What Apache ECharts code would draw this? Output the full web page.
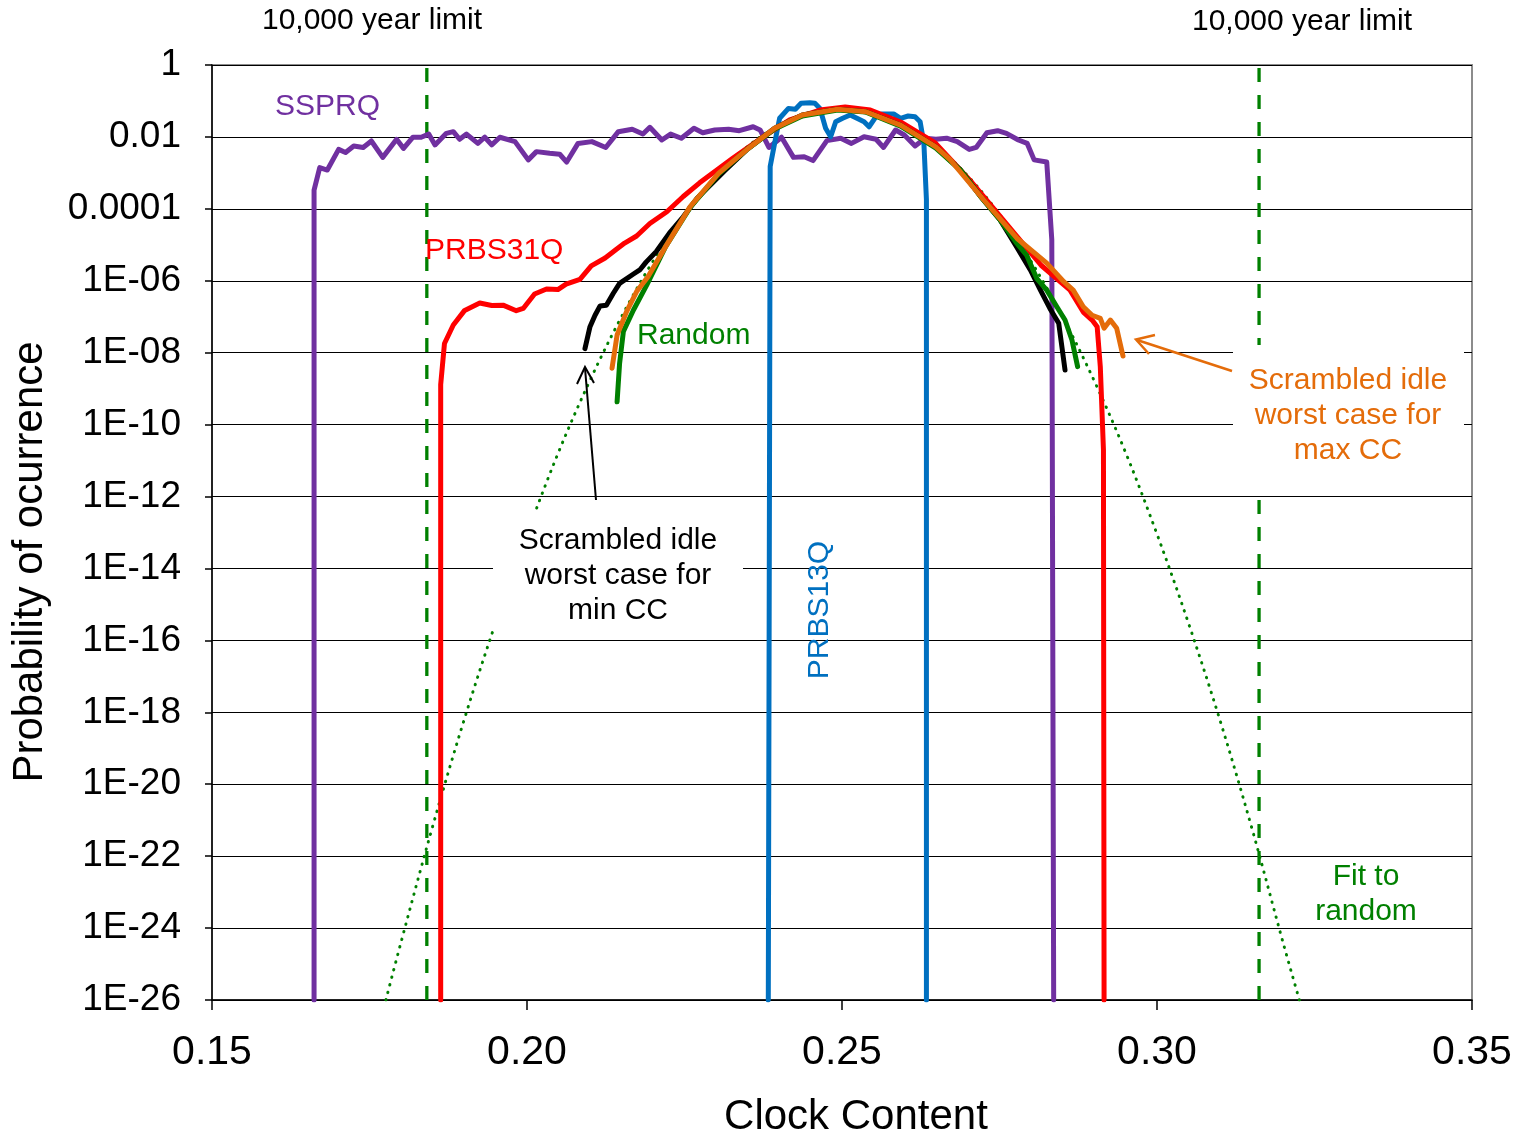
<!DOCTYPE html>
<html>
<head>
<meta charset="utf-8">
<title>Clock content distribution</title>
<script src="https://cdn.jsdelivr.net/npm/echarts@6/dist/echarts.min.js"></script>
<style>
    html, body { margin: 0; padding: 0; background: #fff; }
    #main { width: 1525px; height: 1135px; }
</style>
</head>
<body>
<div id="main"></div>
<script type="text/javascript">
// axis ranges
var xMin = 0.15, xMax = 0.35, xStep = 0.05;
var yMin = 1e-26, yMax = 1, yStepDecades = 2;   // a label every two decades
var limitX = [0.1841, 0.3162];   // 10,000 year limit

// [clock content, probability]
var ssprq = [[0.1662,1e-26],[0.1662,3.3e-4],[0.1671,1.4e-3],[0.1683,1.2e-3],[0.1701,4.5e-3],[0.1712,3.7e-3],
    [0.1725,5.6e-3],[0.1740,5.1e-3],[0.1753,7.7e-3],[0.1771,2.7e-3],[0.1793,8.6e-3],[0.1804,4.8e-3],
    [0.1819,9.8e-3],[0.1832,9.8e-3],[0.1844,1.2e-2],[0.1854,6e-3],[0.1872,1.26e-2],[0.1883,1.4e-2],
    [0.1893,8.6e-3],[0.1904,1.2e-2],[0.1922,6.6e-3],[0.1933,9.8e-3],[0.1944,6e-3],[0.1957,9.8e-3],
    [0.1981,7.4e-3],[0.2002,2.3e-3],[0.2015,3.9e-3],[0.2036,3.5e-3],[0.2052,3.3e-3],[0.2063,2.0e-3],
    [0.2081,6.6e-3],[0.2103,7.4e-3],[0.2125,5.1e-3],[0.2145,1.4e-2],[0.2167,1.63e-2],[0.2184,1.2e-2],
    [0.2195,1.85e-2],[0.2214,8.2e-3],[0.2228,1.2e-2],[0.2245,9.2e-3],[0.2265,1.74e-2],[0.2279,1.31e-2],
    [0.2298,1.56e-2],[0.2320,1.63e-2],[0.2337,1.49e-2],[0.2359,1.92e-2],[0.2370,1.56e-2],[0.2384,5.1e-3],
    [0.2404,9.8e-3],[0.2423,2.7e-3],[0.2440,2.8e-3],[0.2454,2.2e-3],[0.2476,7.9e-3],[0.2498,9.2e-3],
    [0.2515,6.6e-3],[0.2535,1.01e-2],[0.2554,8.6e-3],[0.2566,5.1e-3],[0.2585,1.56e-2],[0.2599,1.13e-2],
    [0.2616,5.6e-3],[0.2632,9.2e-3],[0.2649,8.6e-3],[0.2666,9.2e-3],[0.2683,7.4e-3],[0.2702,4.5e-3],
    [0.2713,5.1e-3],[0.2730,1.31e-2],[0.2747,1.49e-2],[0.2761,1.26e-2],[0.2780,8.2e-3],[0.2794,6.6e-3],
    [0.2805,2.3e-3],[0.2825,2.0e-3],[0.2833,1.4e-5],[0.2836,1e-26]];

var prbs13q = [[0.2383,1e-26],[0.2386,1.5e-3],[0.2393,6.6e-3],[0.2401,3.3e-2],[0.2415,6.2e-2],[0.2426,5.9e-2],
    [0.2435,8.6e-2],[0.2449,8.9e-2],[0.2457,8.6e-2],[0.2465,6.2e-2],[0.2474,1.74e-2],[0.2482,1.01e-2],
    [0.2490,2.65e-2],[0.2501,3.3e-2],[0.2513,4.07e-2],[0.2527,3.09e-2],[0.2535,2.65e-2],[0.2543,1.92e-2],
    [0.2554,3.65e-2],[0.2563,4.34e-2],[0.2582,4.34e-2],[0.2593,3.3e-2],[0.2605,3.82e-2],[0.2616,3.65e-2],
    [0.2624,2.65e-2],[0.2630,6.6e-3],[0.2634,1.8e-4],[0.2634,1e-26]];

var prbs31q = [[0.1863,1e-26],[0.1863,1.3e-9],[0.1869,1.8e-8],[0.1883,5.9e-8],[0.1901,1.5e-7],[0.1925,2.4e-7],
    [0.1944,2.05e-7],[0.1962,2.1e-7],[0.1983,1.47e-7],[0.1994,1.7e-7],[0.2012,4.3e-7],[0.2031,5.9e-7],
    [0.2049,5.7e-7],[0.2062,8.1e-7],[0.2084,1.1e-6],[0.2102,2.6e-6],[0.2124,4.3e-6],[0.2142,7.5e-6],
    [0.2155,1.12e-5],[0.2174,1.76e-5],[0.2195,3.9e-5],[0.2222,8.3e-5],[0.2248,2.2e-4],[0.2274,5.3e-4],
    [0.2326,2.5e-3],[0.2370,8.8e-3],[0.2417,2.96e-2],[0.2465,5.6e-2],[0.2505,6.8e-2],[0.2545,5.6e-2],
    [0.2593,2.6e-2],[0.2648,6.8e-3],[0.2703,6.3e-4],[0.2761,3.8e-5],[0.2816,2.7e-6],[0.2862,5.5e-7],
    [0.2883,1.35e-7],[0.2897,8.1e-8],[0.2905,5.3e-8],[0.2910,4.1e-9],[0.2915,2e-11],[0.2916,1e-26]];

var idleMin = [[0.2092,1.3e-8],[0.2100,5.3e-8],[0.2108,1.1e-7],[0.2116,2e-7],[0.2126,2.1e-7],[0.2137,4.5e-7],
    [0.2147,8.5e-7],[0.2169,1.54e-6],[0.2179,2e-6],[0.2189,3.3e-6],[0.2205,6.4e-6],[0.2226,2.1e-5],
    [0.2248,6e-5],[0.2270,1.96e-4],[0.2315,1.2e-3],[0.2348,4.3e-3],[0.2393,1.74e-2],[0.2437,4.07e-2],
    [0.2493,5.9e-2],[0.2538,5e-2],[0.2593,2.14e-2],[0.2649,5.3e-3],[0.2688,1.2e-3],[0.2721,2.1e-4],
    [0.2751,4.9e-5],[0.2777,8.9e-6],[0.2799,2e-6],[0.2815,5.5e-7],[0.2830,1.7e-7],[0.2844,6.6e-8],
    [0.2854,3.3e-9]];

var random = [[0.2143,4.3e-10],[0.2147,5.1e-9],[0.2153,3.9e-8],[0.2169,1.54e-7],[0.2190,7.6e-7],[0.2220,8.9e-6],
    [0.2259,1.1e-4],[0.2304,9.2e-4],[0.2348,4.3e-3],[0.2393,1.65e-2],[0.2437,3.8e-2],[0.2493,5.6e-2],
    [0.2538,4.9e-2],[0.2593,2e-2],[0.2649,4.9e-3],[0.2688,1.2e-3],[0.2724,1.8e-4],[0.2751,4.9e-5],
    [0.2778,1.07e-5],[0.2793,5.2e-6],[0.2809,1.17e-6],[0.2825,5.5e-7],[0.2841,1.9e-7],[0.2854,8.1e-8],
    [0.2865,2.25e-8],[0.2874,4.1e-9]];

var idleMax = [[0.2135,3.7e-9],[0.2143,3.1e-8],[0.2158,1.38e-7],[0.2174,5e-7],[0.2192,1.3e-6],[0.2220,8.9e-6],
    [0.2259,1.15e-4],[0.2304,9.7e-4],[0.2348,4.3e-3],[0.2393,1.74e-2],[0.2437,4.07e-2],[0.2493,5.9e-2],
    [0.2538,5e-2],[0.2593,2.14e-2],[0.2649,5.3e-3],[0.2672,2.3e-3],[0.2725,1.76e-4],[0.2778,1.5e-5],
    [0.2825,3.1e-6],[0.2852,9.4e-7],[0.2867,5.5e-7],[0.2883,1.9e-7],[0.2897,1.1e-7],[0.2910,9e-8],
    [0.2916,4.8e-8],[0.2926,8.1e-8],[0.2936,4.8e-8],[0.2946,8.1e-9]];

var fitRandom = [[0.1776,1e-26],[0.180,4e-25],[0.185,6.5e-22],[0.190,6e-19],[0.195,3e-16],[0.200,9e-14],
    [0.205,1.7e-11],[0.210,1.7e-9],[0.215,1e-7],[0.220,3.5e-6],[0.225,7e-5],[0.230,8.1e-4],[0.235,5.4e-3],
    [0.240,2.1e-2],[0.245,4.8e-2],[0.250,6.3e-2],[0.255,4.8e-2],[0.260,2.1e-2],[0.265,5.4e-3],[0.270,8.1e-4],
    [0.275,7e-5],[0.280,3.5e-6],[0.285,1e-7],[0.290,1.7e-9],[0.295,1.7e-11],[0.300,9e-14],[0.305,3e-16],
    [0.310,6e-19],[0.315,6.5e-22],[0.320,4e-25],[0.3226,1e-26]];

var FONT = '"Liberation Sans", Arial, sans-serif';
var GREEN = '#008000', PURPLE = '#7030A0', BLUE = '#0070C0', RED = '#FF0000', ORANGE = '#E46C0A';

// the y axis runs in decades (log10 of the probability); the built-in log axis drops its 1E-26 tick
function decade(p) { return Math.log(p) / Math.LN10; }
function toDecades(points) { return points.map(function (p) { return [p[0], decade(p[1])]; }); }

function yLabel(v) {
    var e = Math.round(v);
    if (e >= -4) return e >= 0 ? '1' : '0.' + '0'.repeat(-e - 1) + '1';
    var n = -e;
    return '1E-' + (n < 10 ? '0' : '') + n;
}

function curve(name, data, color, z) {
    return {
        name: name, type: 'line', data: toDecades(data), z: z,
        showSymbol: false, symbol: 'none', animation: false,
        lineStyle: { color: color, width: 5, cap: 'round', join: 'round' }
    };
}

// 10,000 year limit: a vertical dashed line from bottom to top of the plot
function limitLine(x) {
    return {
        name: '10,000 year limit', type: 'line', data: toDecades([[x, yMin], [x, yMax]]), z: 1,
        showSymbol: false, symbol: 'none', animation: false,
        lineStyle: { color: GREEN, width: 3.3, type: [14, 13] }
    };
}

function label(text, x, y, color, align, extra) {
    var el = {
        type: 'text', x: x, y: y, z: 100,
        style: {
            text: text, fill: color, font: '30px ' + FONT, lineHeight: 35,
            textAlign: align || 'center', textVerticalAlign: 'middle', verticalAlign: 'middle'
        }
    };
    if (extra) for (var k in extra) el[k] = extra[k];
    return el;
}

var myChart = echarts.init(document.getElementById('main'));

var option = {
    backgroundColor: '#fff',
    textStyle: { fontFamily: FONT },
    grid: {
        left: 212, right: 53, top: 65, bottom: 135, containLabel: false, outerBoundsMode: 'none',
        show: true, borderColor: '#8c8c8c', borderWidth: 2
    },
    xAxis: {
        type: 'value', min: xMin, max: xMax, interval: xStep, position: 'bottom',
        axisLine: { onZero: false, lineStyle: { color: '#000', width: 1.5 } },
        axisTick: { length: 10, lineStyle: { color: '#000', width: 1.5 } },
        axisLabel: {
            fontSize: 41, color: '#000', margin: 32, showMinLabel: true, showMaxLabel: true,
            formatter: function (v) { return v.toFixed(2); }
        },
        splitLine: { show: false },
        name: 'Clock Content', nameLocation: 'middle', nameGap: 96,
        nameTextStyle: { fontSize: 42, color: '#000', padding: [0, 0, 0, 28] }
    },
    yAxis: {
        type: 'value', min: Math.round(decade(yMin)), max: Math.round(decade(yMax)), interval: yStepDecades,
        position: 'left',
        axisLine: { show: true, onZero: false, lineStyle: { color: '#000', width: 1.5 } },
        axisTick: { show: true, length: 7, lineStyle: { color: '#000', width: 1.5 } },
        axisLabel: {
            fontSize: 37, color: '#000', margin: 31, showMinLabel: true, showMaxLabel: true,
            hideOverlap: false, formatter: yLabel
        },
        splitLine: { show: true, lineStyle: { color: '#000', width: 1 } }
    },
    series: [
        limitLine(limitX[0]),
        limitLine(limitX[1]),
        {
            name: 'Fit to random', type: 'line', data: toDecades(fitRandom), z: 2,
            smooth: 0.35, showSymbol: false, symbol: 'none', animation: false,
            lineStyle: { color: GREEN, width: 3, type: [0.5, 7.3], cap: 'round' }
        },
        curve('SSPRQ', ssprq, PURPLE, 3),
        curve('PRBS13Q', prbs13q, BLUE, 4),
        curve('PRBS31Q', prbs31q, RED, 5),
        curve('Scrambled idle min CC', idleMin, '#000', 6),
        curve('Random', random, GREEN, 7),
        curve('Scrambled idle max CC', idleMax, ORANGE, 8)
    ],
    graphic: [
        {
            type: 'text', x: 30, y: 562, rotation: Math.PI / 2, z: 100,
            style: {
                text: 'Probability of ocurrence', fill: '#000', font: '42px ' + FONT,
                textAlign: 'center', textVerticalAlign: 'middle', verticalAlign: 'middle'
            }
        },
        label('10,000 year limit', 372, 21, '#000'),
        label('10,000 year limit', 1302, 22, '#000'),
        label('SSPRQ', 275, 107, PURPLE, 'left'),
        label('PRBS31Q', 425, 251, RED, 'left'),
        label('Random', 637, 336, GREEN, 'left'),
        label('PRBS13Q', 820, 610, BLUE, 'center', { rotation: Math.PI / 2 }),
        { type: 'rect', z: 99, shape: { x: 493, y: 511, width: 250, height: 119 }, style: { fill: '#fff' } },
        label('Scrambled idle\nworst case for\nmin CC', 618, 576, '#000'),
        { type: 'rect', z: 99, shape: { x: 1233, y: 345, width: 231, height: 145 }, style: { fill: '#fff' } },
        label('Scrambled idle\nworst case for\nmax CC', 1348, 416, ORANGE),
        label('Fit to\nrandom', 1366, 894, GREEN),
        { type: 'line', z: 100, shape: { x1: 596, y1: 500, x2: 585, y2: 368 }, style: { stroke: '#000', lineWidth: 2 } },
        { type: 'polyline', z: 100, shape: { points: [[577, 384], [585, 367], [594, 383]] },
          style: { stroke: '#000', lineWidth: 2, fill: null } },
        { type: 'line', z: 100, shape: { x1: 1232, y1: 371, x2: 1137, y2: 340 }, style: { stroke: ORANGE, lineWidth: 2.5 } },
        { type: 'polyline', z: 100, shape: { points: [[1155, 335], [1136, 339.5], [1149, 354]] },
          style: { stroke: ORANGE, lineWidth: 2.5, fill: null } }
    ]
};

myChart.setOption(option);
</script>
</body>
</html>
